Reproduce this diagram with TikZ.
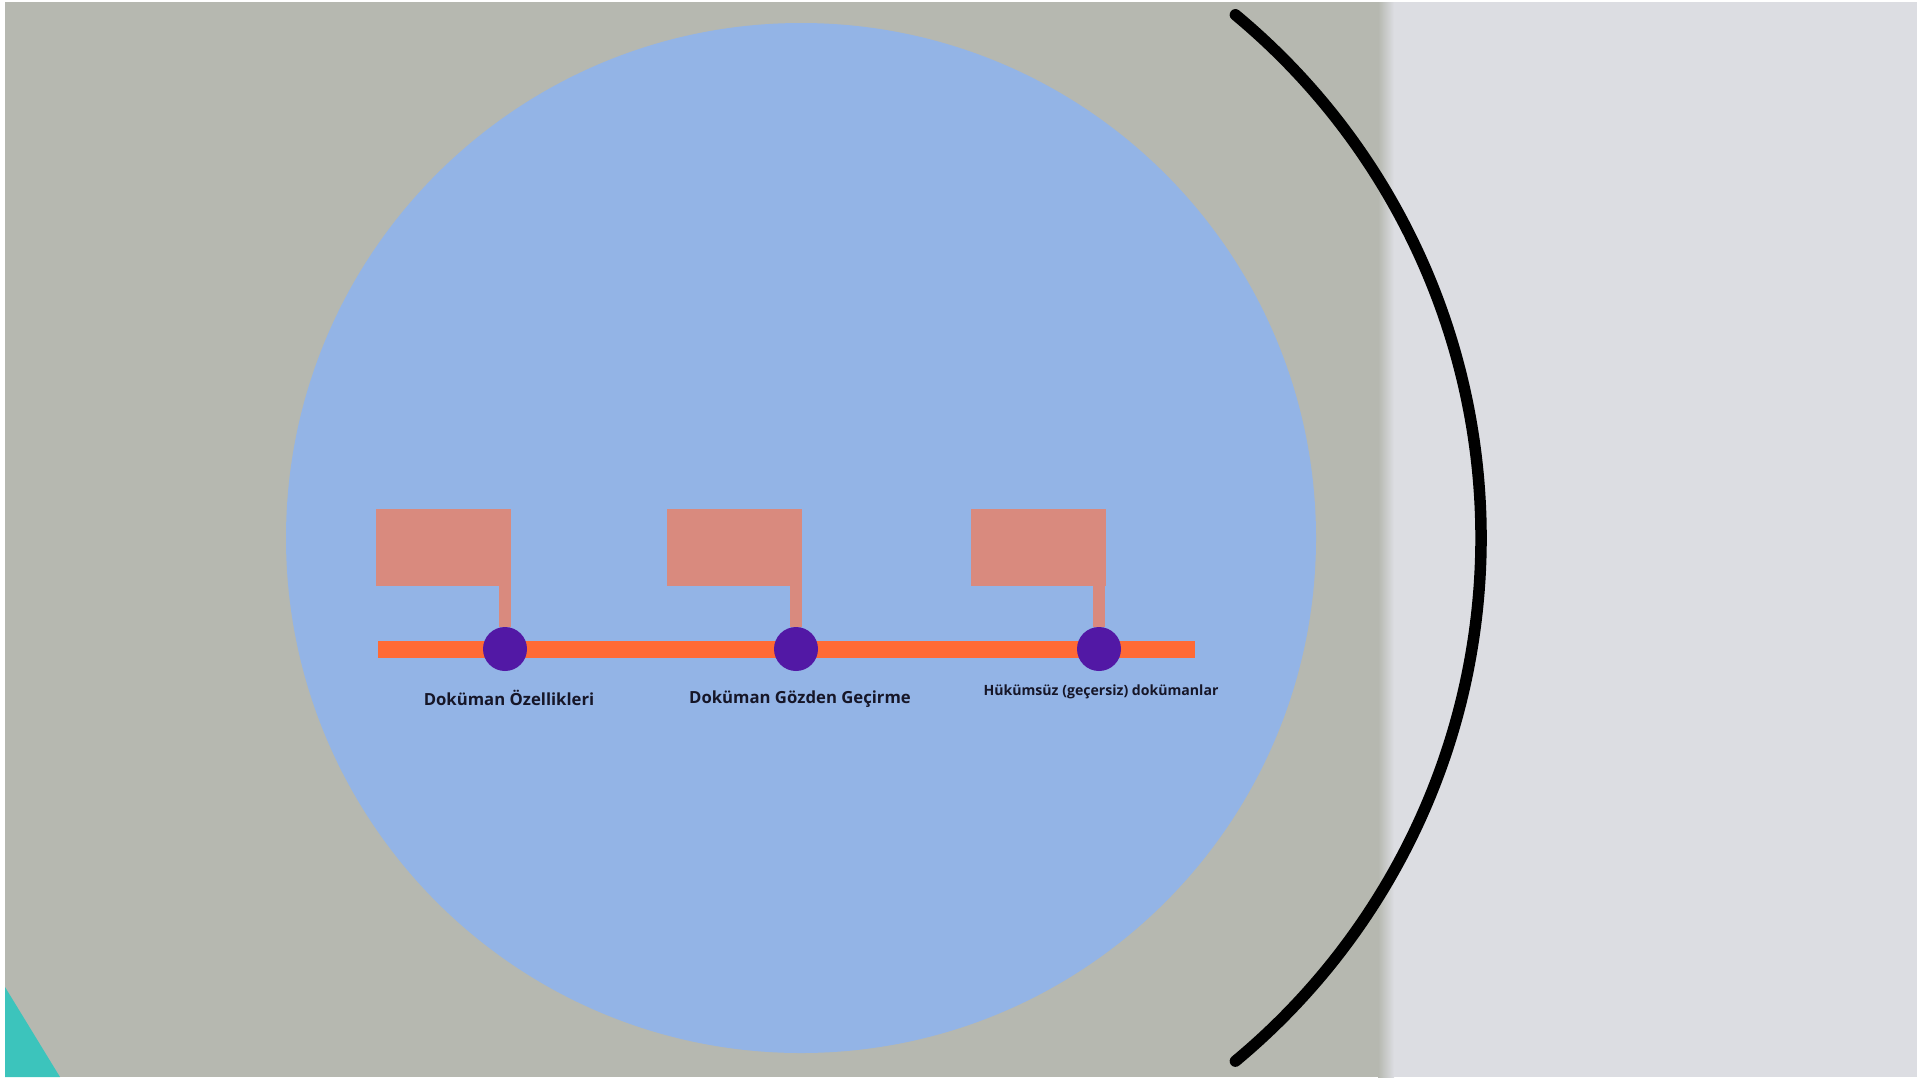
\documentclass[tikz,border=0pt]{standalone}
\usepackage{fontspec}
\setmainfont{Open Sans}
\definecolor{wallgray}{RGB}{182,184,176}
\definecolor{walllight}{RGB}{220,221,226}
\definecolor{discblue}{RGB}{147,180,230}
\definecolor{barorange}{RGB}{255,106,53}
\definecolor{dotpurple}{RGB}{82,24,165}
\definecolor{cardsalmon}{RGB}{217,138,126}
\definecolor{cornerteal}{RGB}{60,196,188}
\definecolor{labelink}{RGB}{22,22,40}
\tikzset{
  card/.style={fill=cardsalmon, minimum width=135pt, minimum height=77pt, anchor=north west, inner sep=0pt},
  stem/.style={draw=cardsalmon, line width=12pt},
  dot/.style={circle, fill=dotpurple, minimum size=44pt, inner sep=0pt},
  steplabel/.style={font=\bfseries, text=labelink}
}
\begin{document}
\begin{tikzpicture}[x=1pt,y=1pt,yscale=-1,xscale=1]
\useasboundingbox (0,0) rectangle (1932,1077);
\fill[white] (0,0) rectangle (1932,1077);

%Shape: Background
\fill[wallgray] (5,2) rectangle (1380,1077);
\fill[walllight] (1392,2) rectangle (1917,1077);
\shade[left color=wallgray, right color=walllight] (1378,2) rectangle (1394,1077);
%Shape: Corner
\fill[cornerteal] (5,987) -- (60,1077) -- (5,1077) -- cycle;

%Shape: Circle
\fill[discblue] (801,538) circle[radius=515pt];
%Shape: Arc
\draw[line width=11.5pt, line cap=round] (1235.4,14.8) arc[start angle=-50.3, end angle=50.3, radius=680pt];

%Straight Lines
\coordinate (barL) at (378,649);
\coordinate (barR) at (1195,649);
\draw[barorange, line width=17pt] (barL) -- (barR);

\node[card] (card1) at (376,509) {};
\node[card] (card2) at (667,509) {};
\node[card] (card3) at (971,509) {};

\node[dot] (dot1) at (505,649) {};
\node[dot] (dot2) at (796,649) {};
\node[dot] (dot3) at (1099,649) {};

\draw[stem] (dot1 |- card1.south) -- (dot1.north);
\draw[stem] (dot2 |- card2.south) -- (dot2.north);
\draw[stem] (dot3 |- card3.south) -- (dot3.north);

\node[steplabel, font=\bfseries\fontsize{16.7}{18}\selectfont] (lab1) at (509,698) {Doküman Özellikleri};
\node[steplabel, font=\bfseries\fontsize{16.7}{18}\selectfont] (lab2) at (800,699) {Doküman Gözden Geçirme};
\node[steplabel, font=\bfseries\fontsize{14.1}{16}\selectfont] (lab3) at (1101,692) {Hükümsüz (geçersiz) dokümanlar};

\end{tikzpicture}
\end{document}
